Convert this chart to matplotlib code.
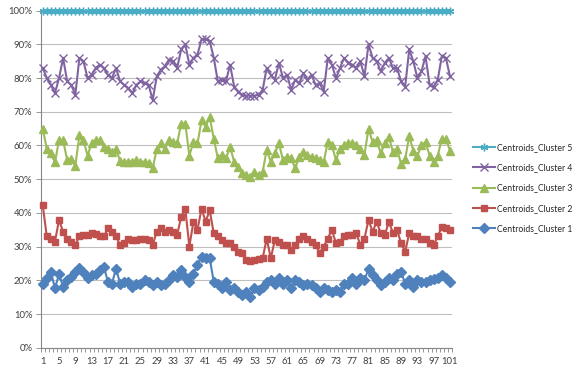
import numpy as np
import matplotlib
matplotlib.use("Agg")
import matplotlib.pyplot as plt
from matplotlib.ticker import FixedLocator, FuncFormatter

plt.rcParams['font.family'] = ['Lato', 'DejaVu Sans']

# centroid values (%) for each of the 101 points
points = np.arange(1, 102)

cluster_1 = [19, 20.6, 22.5, 17.6, 21.8, 18.1, 20.1, 21, 22.5, 23.7, 22.5, 20.6, 21.6, 22, 23, 24, 19.6, 19, 23.5, 19,
             19.6, 19.6, 18.1, 19, 19, 20, 19.6, 18.6, 19.6, 18.6, 19, 20, 21.6, 21, 23, 21, 19.6, 22, 24.5, 27,
             26.5, 26.5, 19.6, 19, 17.6, 19.6, 17.1, 17.6, 16.6, 15.6, 16.6, 15.1, 17.6, 17.1, 18.1, 19.6, 20, 19, 20.6, 19,
             20, 17.6, 20, 19.6, 18.6, 19, 18.6, 17.6, 16.6, 17.6, 17.1, 16.6, 17.1, 16.6, 19, 19, 20.6, 19, 20.6, 20,
             23.5, 21.6, 20, 18.6, 19.6, 20.6, 20, 22, 22.5, 19, 20, 18, 20, 19.6, 19.6, 20, 20.3, 20.6, 21.6, 20.6,
             19.6]

cluster_2 = [42.3, 33, 32.4, 31.5, 37.9, 34.4, 32.4, 31.5, 30.5, 33, 33.4, 33.4, 33.9, 33.6, 33.2, 33, 35.4, 34.4, 33, 30.5,
             31, 32.4, 32, 32, 32.4, 32.4, 32, 30.5, 34.4, 35.4, 34.4, 35, 34.4, 33.4, 38.9, 41.3, 30, 37.4, 35, 41.3,
             37.4, 40.8, 33.9, 33, 32, 31, 31, 30, 28.5, 28, 26, 25.7, 26, 26.2, 26.5, 32.4, 26.5, 32, 31.5, 30.5,
             30.5, 29, 30.5, 32.4, 33, 32.4, 31.5, 30.5, 28, 30, 32.4, 35, 31, 31.5, 33, 33.4, 33.4, 33.9, 30.5, 32.4,
             37.9, 34.4, 37.4, 33.9, 33.4, 37.4, 34, 35, 31, 28.5, 34, 33, 33.2, 32.4, 32.4, 31, 30.5, 33, 35.9, 35.4,
             35]

cluster_3 = [65, 59, 57.7, 55, 61.6, 61.6, 55.7, 56, 54, 63, 61.6, 57, 60.6, 61.6, 61.6, 59.6, 59, 58, 59, 55.4,
             55.2, 55.2, 55.2, 55.7, 55.2, 55.2, 54.7, 53.2, 59, 60.6, 59, 61.6, 61, 60.6, 66.5, 66.5, 57, 61, 60.6, 67.5,
             65.6, 68.5, 62, 56.2, 57.2, 56.2, 59.6, 55.2, 53.7, 51.7, 51.2, 50.7, 52.2, 51.2, 52.2, 58.7, 55.2, 57.7, 60.6, 55.7,
             56.7, 56.2, 53.2, 56.7, 58.2, 57.2, 56.7, 56.2, 55.7, 55.2, 61, 60, 55.7, 59, 60, 60.6, 60.6, 60, 59, 57.2,
             65, 61, 61.6, 57.7, 60.6, 62.6, 58, 59, 54.5, 56, 62.8, 58.5, 57, 60, 61, 57, 55, 57, 62, 62,
             58.5]

cluster_4 = [83, 80, 78, 75.5, 80, 86, 79, 78, 75, 86, 85, 80, 81, 83, 84, 83, 81, 80, 83, 79,
             78, 77, 75.5, 78, 79, 78.5, 78, 73.5, 80.5, 82.5, 83.5, 85.5, 85, 83, 88.5, 90, 84, 86, 87, 91.5,
             91.5, 91, 86, 79, 79.5, 79, 84, 77.5, 76, 75, 74.8, 74.8, 74.8, 75, 76.5, 83, 81, 79.5, 84.5, 80,
             81, 76.5, 79.5, 78.5, 81.5, 79.5, 81, 78, 78.5, 76, 86, 84, 80, 83, 86, 84.5, 84, 83, 85, 80.5,
             90, 86, 85, 82, 84.5, 86, 83, 83, 79, 77.5, 88.5, 85, 80, 82, 86.5, 78, 77.5, 79.5, 86.5, 86,
             80.5]

cluster_5 = [100] * 101

series = [
    ("Centroids_Cluster 1", cluster_1, "#4F81BD", "D", 5.0, 1.0),
    ("Centroids_Cluster 2", cluster_2, "#C0504D", "s", 5.0, 1.0),
    ("Centroids_Cluster 3", cluster_3, "#9BBB59", "^", 6.0, 1.0),
    ("Centroids_Cluster 4", cluster_4, "#8064A2", "x", 5.5, 1.0),
    ("Centroids_Cluster 5", cluster_5, "#4BACC6", (6, 2, 0), 5.5, 1.0),
]

fig = plt.figure(figsize=(5.77, 3.70), dpi=100)
ax = fig.add_axes([40.7 / 577, 22.3 / 370, (452 - 40.7) / 577, 337 / 370])

handles = []
for name, vals, color, marker, ms, mew in series:
    line, = ax.plot(points, vals, color=color, lw=1.5, marker=marker, ms=ms,
                    mec=color, mfc=color, mew=mew, label=name, clip_on=False, zorder=3)
    handles.append(line)

ax.set_xlim(0.5, 101.5)
ax.set_ylim(0, 100)

# horizontal gridlines only
ax.yaxis.set_major_locator(FixedLocator(np.arange(0, 101, 10)))
ax.yaxis.set_major_formatter(FuncFormatter(lambda v, _: f"{int(v)}%"))
ax.grid(axis='y', color='#BFBFBF', lw=0.8, zorder=0)
ax.set_axisbelow(True)

# category labels every 4 points, tick marks between every category
ax.xaxis.set_major_locator(FixedLocator(np.arange(1, 102, 4)))
ax.xaxis.set_minor_locator(FixedLocator(np.arange(0.5, 102, 1)))
ax.tick_params(axis='x', which='major', length=0, pad=7, labelsize=6.8, labelcolor='#404040')
ax.tick_params(axis='x', which='minor', length=3, width=0.6, color='#868686')
ax.tick_params(axis='y', which='major', length=3.5, width=0.6, color='#868686', pad=2.5,
               labelsize=6.8, labelcolor='#404040')

for side in ('top', 'right'):
    ax.spines[side].set_visible(False)
for side in ('left', 'bottom'):
    ax.spines[side].set_color('#868686')
    ax.spines[side].set_linewidth(0.8)

fig.legend(handles[::-1], [h.get_label() for h in handles[::-1]],
           loc='upper left', bbox_to_anchor=(473 / 577, 1 - 142.8 / 370),
           frameon=False, fontsize=6.2, handlelength=2.55, handletextpad=0.23,
           labelspacing=1.32, borderpad=0, borderaxespad=0, labelcolor='#262626')

fig.savefig("out.png", dpi=100)
